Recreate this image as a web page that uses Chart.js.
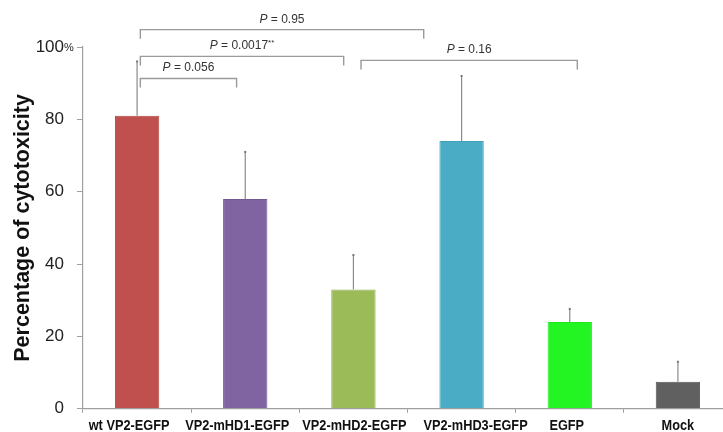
<!DOCTYPE html>
<html>
<head>
<meta charset="utf-8">
<script src="https://cdn.jsdelivr.net/npm/chart.js@4"></script>
<style>
  html, body { margin: 0; padding: 0; background: #fff; overflow: hidden; }
  #wrap { width: 740px; height: 432px; }
</style>
</head>
<body>
<div id="wrap"><canvas id="myChart" width="740" height="432"></canvas></div>
<script>
const categories = ['wt VP2-EGFP', 'VP2-mHD1-EGFP', 'VP2-mHD2-EGFP', 'VP2-mHD3-EGFP', 'EGFP', 'Mock'];
const cytotoxicity = [81, 58, 33, 74, 24, 7.5];
const errorUp = [15, 13, 9.5, 18, 3.6, 5.5];
const barColors = ['#C0504D', '#8064A2', '#9BBB59', '#4BACC6', '#22F522', '#606060'];
const barEdges = ['#b04543', '#735894', '#8eae4d', '#3f9fb9', '#1ee81e', '#555555'];
const yTicks = [0, 20, 40, 60, 80, 100];

// significance brackets: category index from/to, height in % units
const brackets = [
    { from: 0.03, to: 2.65, y: 104.8, p: '0.95', stars: '' },
    { from: 0.03, to: 1.91, y: 97.4, p: '0.0017', stars: '**' },
    { from: 0.03, to: 0.92, y: 91.3, p: '0.056', stars: '' },
    { from: 2.07, to: 4.07, y: 96.3, p: '0.16', stars: '' }
];

const FONT = '"Liberation Sans", Arial, sans-serif';
// the original labels sit a little off their category centres
const labelShift = [-8, -8, 1, 14, -3, 0];

const extras = {
    id: 'extras',
    afterDatasetsDraw(chart) {
        const ctx = chart.ctx;
        const x = chart.scales.x, y = chart.scales.y;
        const meta = chart.getDatasetMeta(0);
        ctx.save();
        // error bars, upper only
        ctx.strokeStyle = '#8a8a8a';
        ctx.fillStyle = '#777';
        ctx.lineWidth = 1.2;
        meta.data.forEach((bar, i) => {
            const top = y.getPixelForValue(cytotoxicity[i] + errorUp[i]);
            ctx.beginPath();
            ctx.moveTo(bar.x, bar.y);
            ctx.lineTo(bar.x, top);
            ctx.stroke();
            ctx.fillRect(bar.x - 1, top - 1, 2, 2);
        });
        // condensed bold category labels (the original uses a narrow face)
        ctx.fillStyle = '#111';
        ctx.font = 'bold 15px ' + FONT;
        ctx.textAlign = 'center';
        ctx.textBaseline = 'middle';
        categories.forEach((lab, i) => {
            ctx.save();
            ctx.translate(x.getPixelForValue(i) + labelShift[i], x.top + 17);
            ctx.scale(0.85, 1);
            ctx.fillText(lab, 0, 0);
            ctx.restore();
        });
        // small % sign after the top tick
        ctx.fillStyle = '#222';
        ctx.font = '11px ' + FONT;
        ctx.textAlign = 'left';
        ctx.fillText('%', y.right - 19, y.getPixelForValue(100) + 1);
        // brackets
        const catW = x.getPixelForValue(1) - x.getPixelForValue(0);
        const px = v => x.getPixelForValue(0) + v * catW;
        ctx.strokeStyle = '#9a9a9a';
        ctx.lineWidth = 1.4;
        brackets.forEach(b => {
            const x1 = px(b.from), x2 = px(b.to), yy = y.getPixelForValue(b.y);
            ctx.beginPath();
            ctx.moveTo(x1, yy + 9);
            ctx.lineTo(x1, yy);
            ctx.lineTo(x2, yy);
            ctx.lineTo(x2, yy + 9);
            ctx.stroke();
            // label "P = value"
            const mid = (x1 + x2) / 2;
            ctx.fillStyle = '#333';
            ctx.textBaseline = 'alphabetic';
            ctx.font = 'italic 12px ' + FONT;
            const wP = ctx.measureText('P').width;
            ctx.font = '12px ' + FONT;
            const rest = ' = ' + b.p;
            const wR = ctx.measureText(rest).width;
            ctx.font = '8px ' + FONT;
            const wS = b.stars ? ctx.measureText(b.stars).width : 0;
            const sx = mid - (wP + wR + wS) / 2;
            const base = yy - 7;
            ctx.textAlign = 'left';
            ctx.font = 'italic 12px ' + FONT;
            ctx.fillText('P', sx, base);
            ctx.font = '12px ' + FONT;
            ctx.fillText(rest, sx + wP, base);
            if (b.stars) {
                ctx.font = '8px ' + FONT;
                ctx.fillText(b.stars, sx + wP + wR, base - 4);
            }
        });
        ctx.restore();
    }
};

const chart = new Chart(document.getElementById('myChart'), {
    type: 'bar',
    data: {
        labels: categories,
        datasets: [{
            data: cytotoxicity,
            backgroundColor: barColors,
            borderColor: barEdges,
            borderWidth: 1,
            barPercentage: 0.41,
            categoryPercentage: 1
        }]
    },
    options: {
        responsive: false,
        animation: false,
        layout: { padding: { top: 47, right: 8, left: 0, bottom: 0 } },
        plugins: { legend: { display: false }, tooltip: { enabled: false } },
        scales: {
            x: {
                afterFit: s => { s.height = 23; },
                border: { color: '#a0a0a0', width: 1.2 },
                grid: { offset: true, drawOnChartArea: false, tickLength: 4, color: '#a0a0a0' },
                ticks: {
                    padding: 4,
                    maxRotation: 0,
                    autoSkip: false,
                    color: 'rgba(0,0,0,0)',
                    font: { family: FONT, size: 12, weight: 'bold' }
                }
            },
            y: {
                min: 0,
                max: 100,
                afterFit: s => { s.width = 83; },
                afterBuildTicks: s => { s.ticks = yTicks.map(v => ({ value: v })); },
                border: { color: '#a0a0a0', width: 1.2 },
                grid: { drawOnChartArea: false, tickLength: 6, color: '#a0a0a0' },
                ticks: {
                    padding: 13,
                    color: '#222',
                    font: { family: FONT, size: 17 }
                },
                title: {
                    display: true,
                    text: 'Percentage of cytotoxicity',
                    color: '#111',
                    padding: { top: 10, bottom: 0 },
                    font: { family: FONT, size: 21.5, weight: 'bold' }
                }
            }
        }
    },
    plugins: [extras]
});
</script>
</body>
</html>
